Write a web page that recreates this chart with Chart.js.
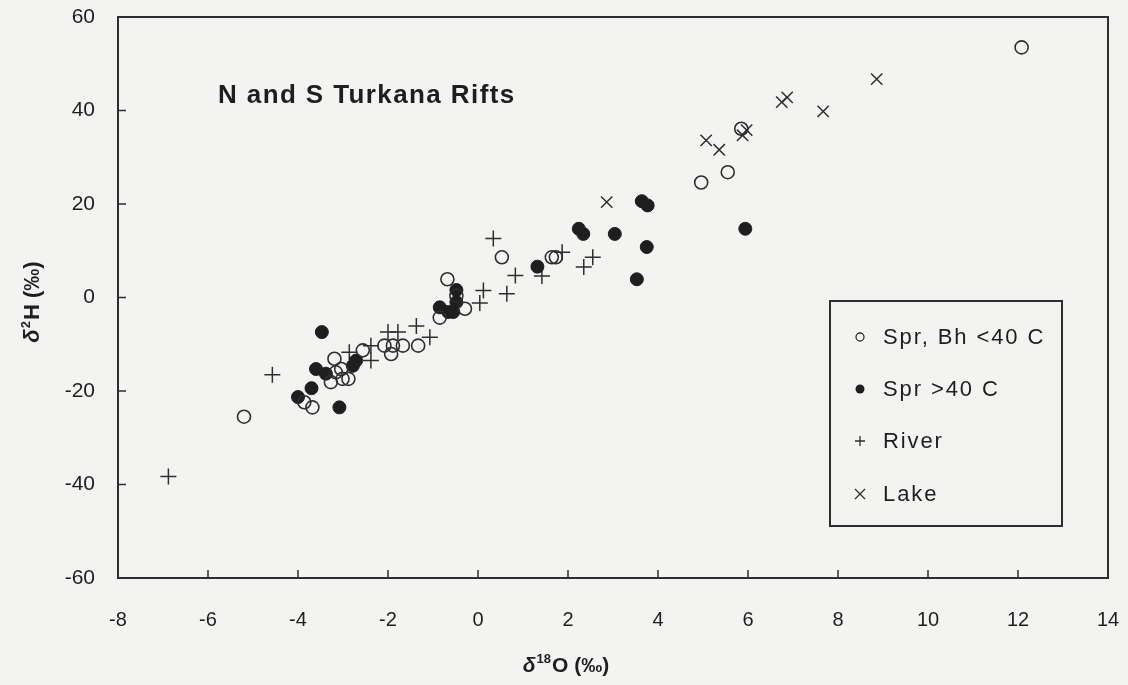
<!DOCTYPE html>
<html>
<head>
<meta charset="utf-8">
<script src="https://cdn.jsdelivr.net/npm/chart.js@4/dist/chart.umd.min.js"></script>
<style>
  html, body { margin: 0; padding: 0; background: #f3f3f1; }
  #wrap { width: 1128px; height: 685px; }
</style>
</head>
<body>
<div id="wrap"><canvas id="chart" width="1128" height="685"></canvas></div>
<script>
// isotope samples, [d18O, d2H] pairs
var springCool = [
  [-5.2, -25.5], [-3.86, -22.4], [-3.68, -23.5], [-3.27, -18.1], [-3.01, -17.4],
  [-2.88, -17.4], [-3.16, -16.0], [-3.04, -15.3], [-3.19, -13.1], [-2.56, -11.3],
  [-2.08, -10.3], [-1.89, -10.3], [-1.67, -10.3], [-1.93, -12.1], [-1.33, -10.3],
  [-0.85, -4.3], [-0.29, -2.4], [-0.48, 0.4], [-0.68, 3.9], [0.53, 8.6],
  [1.64, 8.6], [1.73, 8.6], [4.96, 24.6], [5.55, 26.8], [5.85, 36.1], [12.08, 53.5]
];
var springHot = [
  [-3.47, -7.4], [-3.6, -15.3], [-3.38, -16.3], [-3.7, -19.4], [-4.0, -21.3],
  [-3.08, -23.5], [-2.78, -14.6], [-2.71, -13.5], [-0.48, 1.6], [-0.48, -1.0],
  [-0.85, -2.1], [-0.66, -3.1], [-0.55, -3.1], [1.32, 6.6], [2.24, 14.7],
  [2.34, 13.6], [3.04, 13.6], [3.64, 20.6], [3.77, 19.7], [3.75, 10.8],
  [3.53, 3.9], [5.94, 14.7]
];
var river = [
  [-6.88, -38.3], [-4.57, -16.5], [-2.86, -11.7], [-2.38, -10.3], [-2.38, -13.5],
  [-2.0, -7.4], [-1.78, -7.4], [-1.37, -6.1], [-1.07, -8.5], [0.04, -1.2],
  [0.12, 1.5], [0.64, 0.8], [0.83, 4.7], [0.34, 12.6], [1.42, 4.6],
  [1.87, 9.7], [2.35, 6.5], [2.55, 8.6]
];
var lake = [
  [2.86, 20.4], [5.07, 33.6], [5.36, 31.6], [5.88, 34.7], [5.97, 35.8],
  [6.75, 41.8], [6.87, 42.8], [7.67, 39.8], [8.86, 46.7]
];

var seriesNames = ['Spr, Bh <40 C', 'Spr >40 C', 'River', 'Lake'];
var xTicks = [-8, -6, -4, -2, 0, 2, 4, 6, 8, 10, 12, 14];
var yTicks = [-60, -40, -20, 0, 20, 40, 60];

var ink = '#2e2e2e';
var font = "'Liberation Sans', Arial, sans-serif";

function pts(arr) {
  return arr.map(function (p) { return { x: p[0], y: p[1] }; });
}

// draws "δ<sup>…</sup>rest" starting at x, vertically centred on y
function isoLabel(ctx, x, y, sup, rest, size) {
  ctx.textBaseline = 'alphabetic';
  ctx.textAlign = 'left';
  var base = y + size * 0.36;
  ctx.font = 'italic bold ' + size + 'px ' + font;
  ctx.fillText('δ', x, base);
  x += ctx.measureText('δ').width + 1;
  ctx.font = 'bold ' + Math.round(size * 0.6) + 'px ' + font;
  ctx.fillText(sup, x, base - size * 0.42);
  x += ctx.measureText(sup).width + 1;
  ctx.font = 'bold ' + size + 'px ' + font;
  ctx.fillText(rest, x, base);
  return x + ctx.measureText(rest).width;
}

function isoWidth(ctx, sup, rest, size) {
  ctx.font = 'italic bold ' + size + 'px ' + font;
  var w = ctx.measureText('δ').width + 2;
  ctx.font = 'bold ' + Math.round(size * 0.6) + 'px ' + font;
  w += ctx.measureText(sup).width;
  ctx.font = 'bold ' + size + 'px ' + font;
  return w + ctx.measureText(rest).width;
}

// frame, inward ticks, axis titles, heading and legend box
var decor = {
  id: 'decor',
  afterDatasetsDraw: function (chart) {
    var ctx = chart.ctx, a = chart.chartArea;
    var xs = chart.scales.x, ys = chart.scales.y;
    ctx.save();
    ctx.strokeStyle = ink;
    ctx.lineWidth = 2;
    ctx.strokeRect(a.left, a.top, a.right - a.left, a.bottom - a.top);

    ctx.lineWidth = 1.5;
    ctx.beginPath();
    xTicks.slice(1, -1).forEach(function (v) {
      var px = xs.getPixelForValue(v);
      ctx.moveTo(px, a.bottom);
      ctx.lineTo(px, a.bottom - 8);
    });
    yTicks.slice(1, -1).forEach(function (v) {
      var py = ys.getPixelForValue(v);
      ctx.moveTo(a.left, py);
      ctx.lineTo(a.left + 8, py);
    });
    ctx.stroke();

    ctx.fillStyle = '#1e1e1e';

    // axis titles
    var wx = isoWidth(ctx, '18', 'O (‰)', 21);
    isoLabel(ctx, 566 - wx / 2, 664, '18', 'O (‰)', 21);
    var wy = isoWidth(ctx, '2', 'H (‰)', 22);
    ctx.save();
    ctx.translate(31, 302);
    ctx.rotate(-Math.PI / 2);
    isoLabel(ctx, -wy / 2, 0, '2', 'H (‰)', 22);
    ctx.restore();

    ctx.font = 'bold 26px ' + font;
    ctx.textBaseline = 'middle';
    ctx.textAlign = 'left';
    ctx.letterSpacing = '1.4px';
    ctx.fillText('N and S Turkana Rifts', 218, 96);

    // legend
    var bx = 830, by = 301, bw = 232, bh = 225;
    ctx.lineWidth = 2;
    ctx.strokeStyle = ink;
    ctx.strokeRect(bx, by, bw, bh);
    var rows = [337, 389, 441, 494];
    ctx.font = '22px ' + font;
    ctx.letterSpacing = '1.9px';
    ctx.lineWidth = 1.3;
    rows.forEach(function (ry, i) {
      var mx = 860;
      ctx.beginPath();
      if (i === 0) {
        ctx.arc(mx, ry, 4, 0, Math.PI * 2);
        ctx.stroke();
      } else if (i === 1) {
        ctx.arc(mx, ry, 4.5, 0, Math.PI * 2);
        ctx.fill();
      } else if (i === 2) {
        ctx.moveTo(mx - 5, ry); ctx.lineTo(mx + 5, ry);
        ctx.moveTo(mx, ry - 5); ctx.lineTo(mx, ry + 5);
        ctx.stroke();
      } else {
        ctx.moveTo(mx - 5, ry - 5); ctx.lineTo(mx + 5, ry + 5);
        ctx.moveTo(mx + 5, ry - 5); ctx.lineTo(mx - 5, ry + 5);
        ctx.stroke();
      }
      ctx.fillText(seriesNames[i], 883, ry + 1);
    });
    ctx.restore();
  }
};

new Chart(document.getElementById('chart'), {
  type: 'scatter',
  data: {
    datasets: [
      {
        label: seriesNames[0], data: pts(springCool),
        pointStyle: 'circle', pointRadius: 6.5,
        borderColor: ink, backgroundColor: 'rgba(0,0,0,0)', borderWidth: 1.6
      },
      {
        label: seriesNames[1], data: pts(springHot),
        pointStyle: 'circle', pointRadius: 6.5,
        borderColor: '#1e1e1e', backgroundColor: '#1e1e1e', borderWidth: 1
      },
      {
        label: seriesNames[2], data: pts(river),
        pointStyle: 'cross', pointRadius: 8,
        borderColor: ink, borderWidth: 1.5
      },
      {
        label: seriesNames[3], data: pts(lake),
        pointStyle: 'crossRot', pointRadius: 8,
        borderColor: ink, borderWidth: 1.5
      }
    ]
  },
  options: {
    responsive: false,
    animation: false,
    layout: { padding: { top: 17, right: 20, left: 0, bottom: 0 } },
    plugins: {
      legend: { display: false },
      tooltip: { enabled: false }
    },
    scales: {
      x: {
        type: 'linear', min: -8, max: 14,
        afterBuildTicks: function (s) { s.ticks = xTicks.map(function (v) { return { value: v }; }); },
        // fixed band height, and no extra end margins for the outer labels
        afterFit: function (s) { s.height = 107; s.paddingLeft = 0; s.paddingRight = 0; },
        grid: { display: false, drawTicks: false },
        border: { display: false },
        ticks: { color: '#1e1e1e', font: { family: font, size: 20 }, padding: 30 }
      },
      y: {
        type: 'linear', min: -60, max: 60,
        afterBuildTicks: function (s) { s.ticks = yTicks.map(function (v) { return { value: v }; }); },
        afterFit: function (s) { s.width = 118; s.paddingTop = 0; s.paddingBottom = 0; },
        grid: { display: false, drawTicks: false },
        border: { display: false },
        ticks: { color: '#1e1e1e', font: { family: font, size: 21 }, padding: 23 }
      }
    }
  },
  plugins: [decor]
});
</script>
</body>
</html>
